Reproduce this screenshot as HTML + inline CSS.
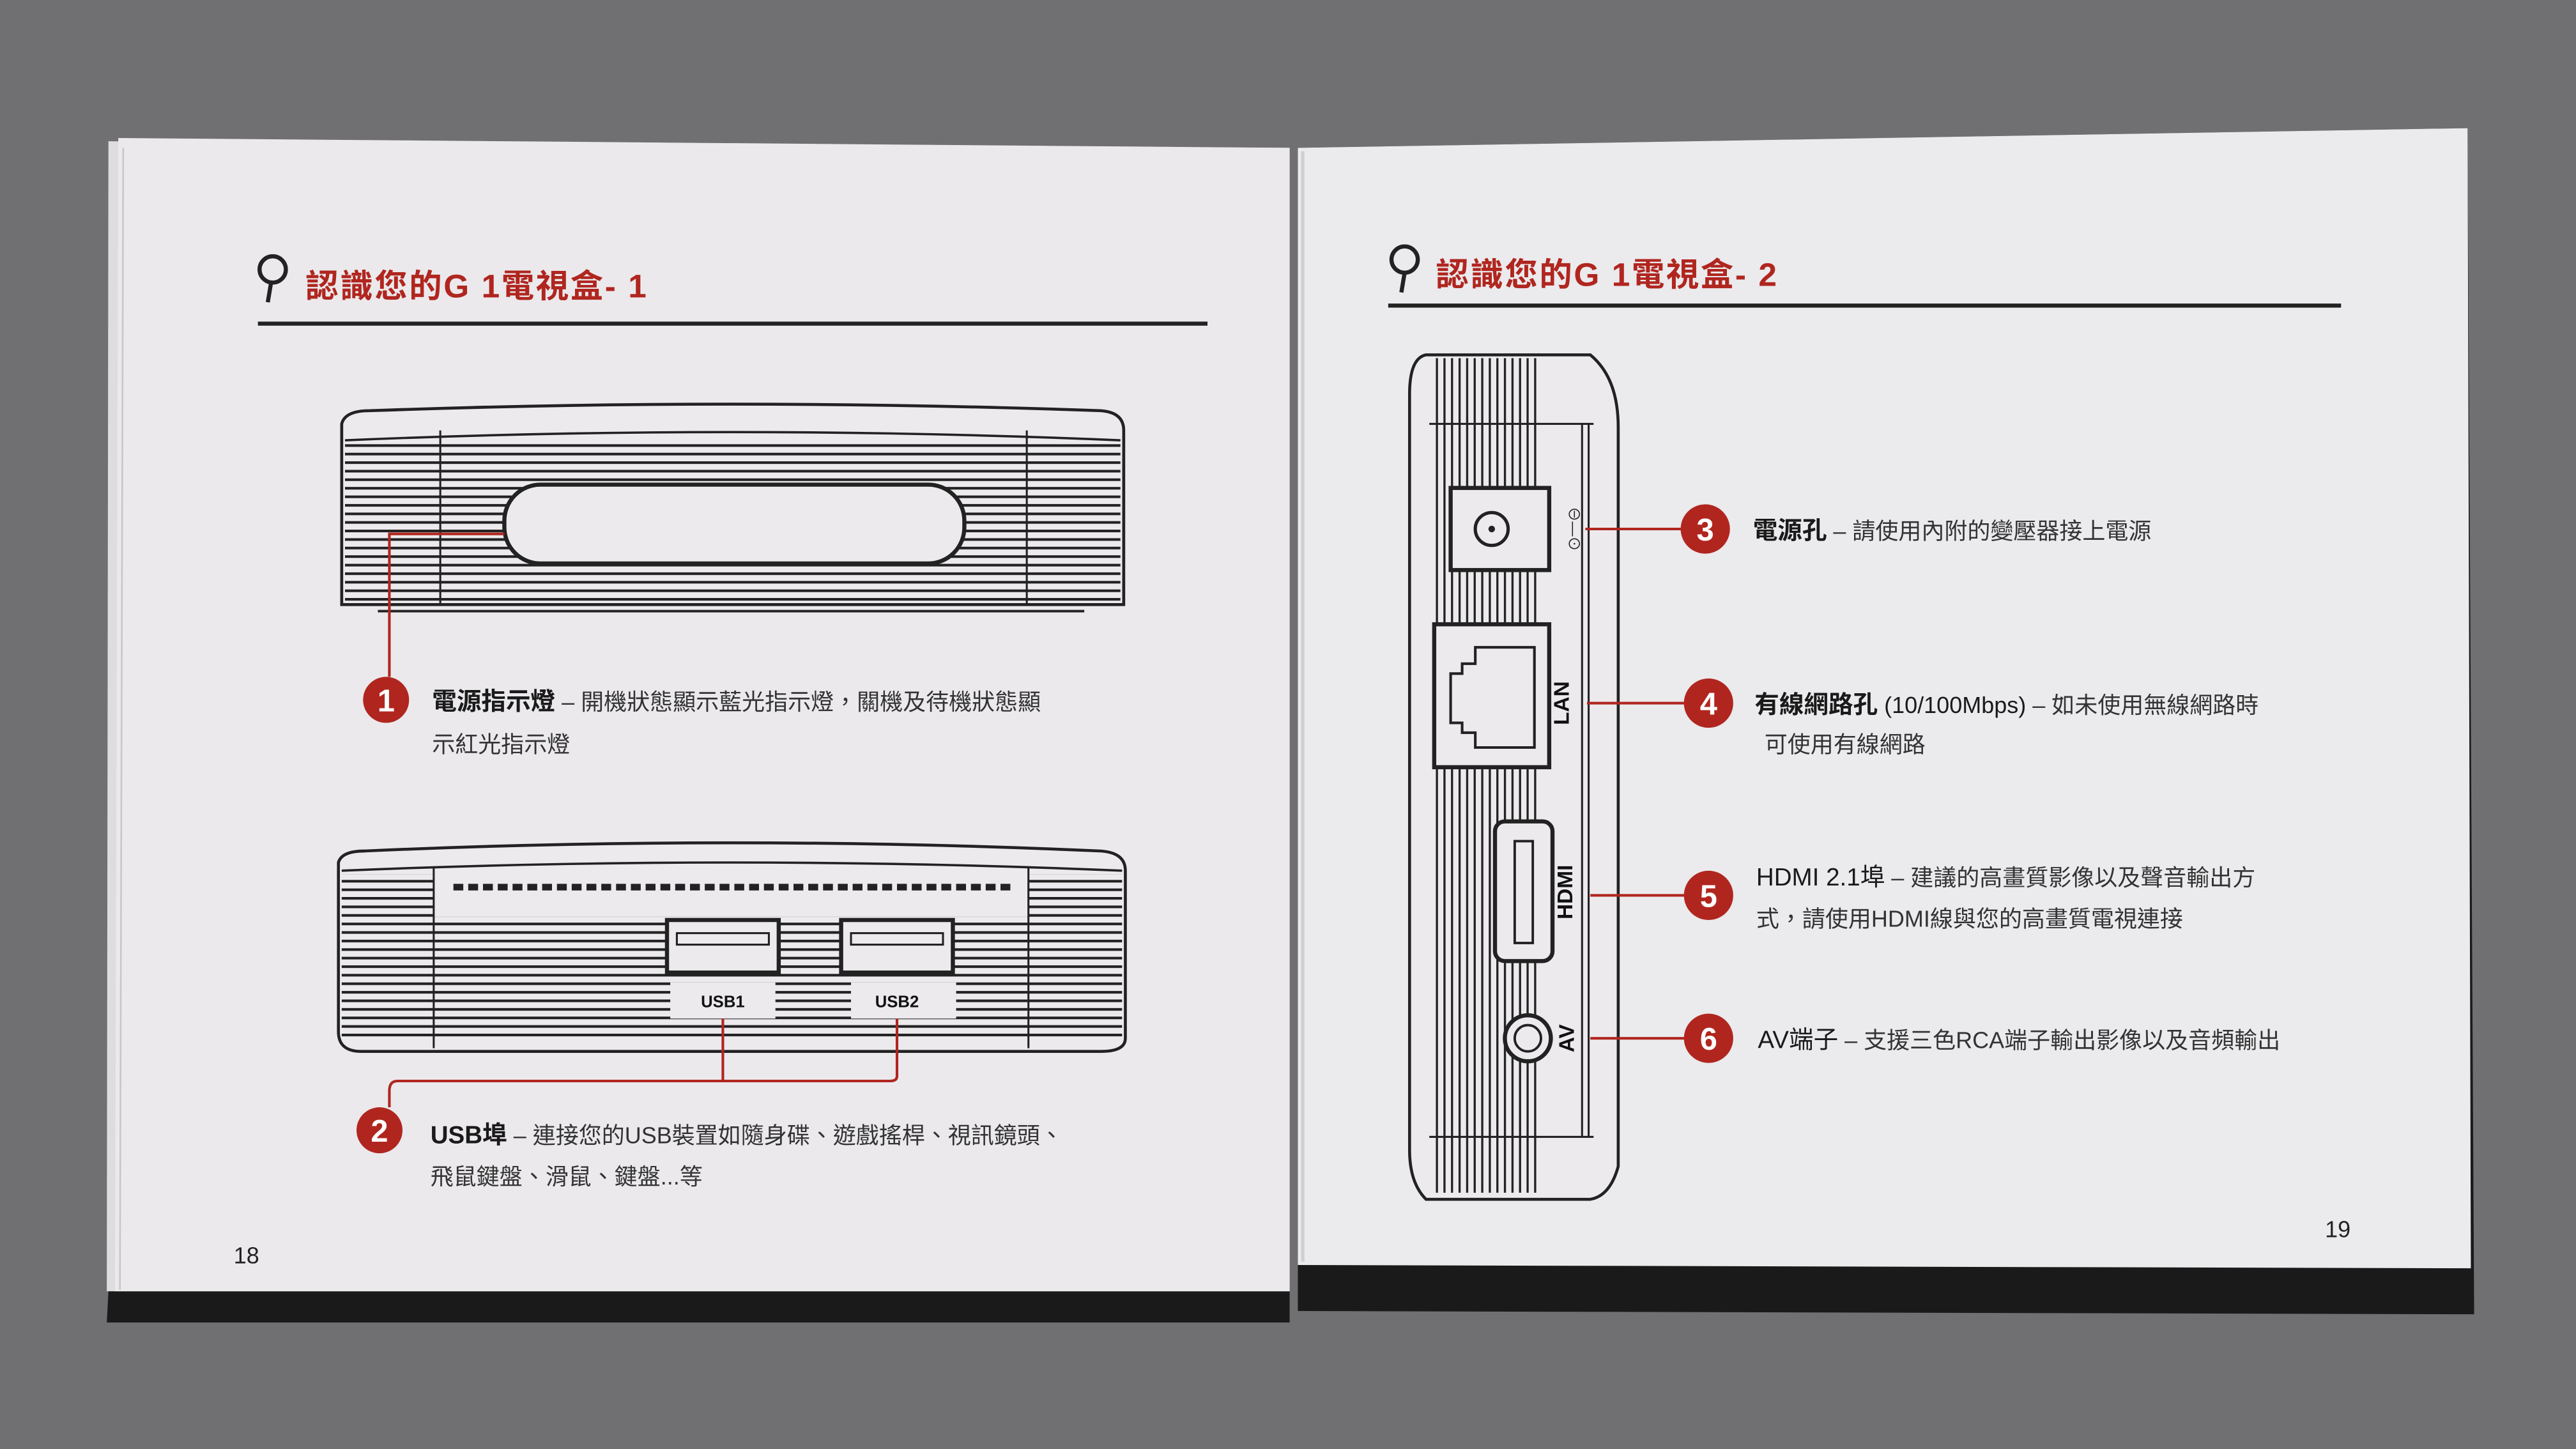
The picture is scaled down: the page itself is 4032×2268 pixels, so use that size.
<!DOCTYPE html>
<html><head><meta charset="utf-8"><style>
html,body{margin:0;padding:0;background:#6b6b6d;}
svg{display:block;}
text{font-family:"Liberation Sans","Noto Sans CJK TC",sans-serif;}
</style></head><body>
<svg width="4032" height="2268" viewBox="0 0 1568 882" preserveAspectRatio="none" xmlns="http://www.w3.org/2000/svg">
<defs>
<pattern id="hs" width="10" height="5.2" patternUnits="userSpaceOnUse"><rect width="10" height="1.6" fill="#222"/></pattern>
<pattern id="vs" width="4.6" height="10" patternUnits="userSpaceOnUse"><rect width="1.3" height="10" fill="#222"/></pattern>
</defs>
<rect width="1568" height="882" fill="#707072"/>
<!-- left page -->
<polygon points="66,786 785,786 785,805 65,805" fill="#1a1a1a"/>
<polygon points="66,86 785,90 785,786 65,786" fill="#dedcdf"/>
<polygon points="72,84 785,90 785,786 70,786" fill="#ebe9ec"/>
<line x1="75" y1="90" x2="73" y2="785" stroke="#c8c6c9" stroke-width="1"/>
<!-- right page -->
<polygon points="790,90 1502,78 1506,800 790,798" fill="#1a1a1a"/>
<polygon points="790,90 1502,78 1504,772 790,770" fill="#ebeaed"/>
<line x1="793" y1="92" x2="793" y2="768" stroke="#d0ced1" stroke-width="2"/>

<!-- left title -->
<circle cx="166" cy="164" r="8" fill="none" stroke="#222" stroke-width="2.5"/>
<line x1="165" y1="172" x2="163" y2="184" stroke="#222" stroke-width="2.5"/>
<text x="186" y="181" font-size="20" font-weight="bold" fill="#b0261f" letter-spacing="1">認識您的G 1電視盒- 1</text>
<line x1="157" y1="197" x2="735" y2="197" stroke="#222" stroke-width="2.5"/>

<!-- box 1 -->
<path d="M208,258 Q210,250 225,250 Q445,242 670,250 Q684,251 684,262 L684,368 L208,368 Z" fill="#eceaed" stroke="#222" stroke-width="1.8"/>
<rect x="210" y="268" width="472" height="98" fill="url(#hs)"/>
<rect x="268" y="262" width="356" height="8" fill="#eceaed"/>
<line x1="268" y1="262" x2="268" y2="368" stroke="#222" stroke-width="1.2"/>
<line x1="625" y1="262" x2="625" y2="368" stroke="#222" stroke-width="1.2"/>
<path d="M210,268 Q445,258 682,268" fill="none" stroke="#222" stroke-width="1.4"/>
<rect x="307" y="295" width="280" height="48" rx="22" fill="#eceaed" stroke="#222" stroke-width="2.5"/>
<line x1="230" y1="372" x2="660" y2="372" stroke="#222" stroke-width="1.5"/>
<path d="M307,325 H237 V412" fill="none" stroke="#b0261f" stroke-width="1.6"/>
<circle cx="235" cy="426" r="14" fill="#b0261f"/>
<text x="235" y="433" font-size="19" font-weight="bold" fill="#fff" text-anchor="middle">1</text>
<text x="263" y="432" font-size="15" font-weight="bold" fill="#1a1a1a">電源指示燈<tspan font-weight="normal" font-size="14" fill="#333"> – 開機狀態顯示藍光指示燈，關機及待機狀態顯</tspan></text>
<text x="263" y="458" font-size="14" fill="#333">示紅光指示燈</text>

<!-- box 2 -->
<path d="M206,525 Q208,518 222,518 Q445,508 670,518 Q685,519 685,530 L685,632 Q685,640 670,640 L220,640 Q206,640 206,628 Z" fill="#eceaed" stroke="#222" stroke-width="1.8"/>
<rect x="208" y="532" width="475" height="102" fill="url(#hs)"/>
<rect x="264" y="528" width="362" height="30" fill="#eceaed"/>
<path d="M208,530 Q445,520 683,530" fill="none" stroke="#222" stroke-width="1.4"/>
<line x1="264" y1="528" x2="264" y2="638" stroke="#222" stroke-width="1.2"/>
<line x1="626" y1="528" x2="626" y2="638" stroke="#222" stroke-width="1.2"/>
<line x1="276" y1="540" x2="616" y2="540" stroke="#222" stroke-width="4" stroke-dasharray="6,3"/>
<rect x="406" y="560" width="68" height="32" fill="#eceaed" stroke="#222" stroke-width="2.5"/>
<rect x="412" y="568" width="56" height="7" fill="none" stroke="#222" stroke-width="1.2"/>
<rect x="512" y="560" width="68" height="32" fill="#eceaed" stroke="#222" stroke-width="2.5"/>
<rect x="518" y="568" width="56" height="7" fill="none" stroke="#222" stroke-width="1.2"/>
<rect x="408" y="598" width="64" height="22" fill="#eceaed"/>
<rect x="518" y="598" width="64" height="22" fill="#eceaed"/>
<text x="440" y="613" font-size="10" font-weight="bold" fill="#111" text-anchor="middle">USB1</text>
<text x="546" y="613" font-size="10" font-weight="bold" fill="#111" text-anchor="middle">USB2</text>
<path d="M440,620 V658 M546,620 V655 Q546,658 542,658 H242 Q237,658 237,664 V674" fill="none" stroke="#b0261f" stroke-width="1.6"/>
<circle cx="231" cy="688" r="14" fill="#b0261f"/>
<text x="231" y="695" font-size="19" font-weight="bold" fill="#fff" text-anchor="middle">2</text>
<text x="262" y="696" font-size="15" font-weight="bold" fill="#1a1a1a">USB埠<tspan font-weight="normal" font-size="14" fill="#333"> – 連接您的USB裝置如隨身碟、遊戲搖桿、視訊鏡頭、</tspan></text>
<text x="262" y="721" font-size="14" fill="#333">飛鼠鍵盤、滑鼠、鍵盤...等</text>
<text x="150" y="769" font-size="14" fill="#222" text-anchor="middle">18</text>

<!-- right title -->
<circle cx="855" cy="158" r="8" fill="none" stroke="#222" stroke-width="2.5"/>
<line x1="855" y1="166" x2="853" y2="178" stroke="#222" stroke-width="2.5"/>
<text x="874" y="174" font-size="20" font-weight="bold" fill="#b0261f" letter-spacing="1">認識您的G 1電視盒- 2</text>
<line x1="845" y1="186" x2="1425" y2="186" stroke="#222" stroke-width="2.5"/>

<!-- side device -->
<path d="M868,216 H968 Q985,230 985,260 V710 Q980,728 968,730 H868 Q858,720 858,700 V240 Q858,218 868,216 Z" fill="#eceaed" stroke="#222" stroke-width="1.8"/>
<rect x="872" y="218" width="65" height="508" fill="url(#vs)"/>
<line x1="870" y1="258" x2="970" y2="258" stroke="#222" stroke-width="1.2"/>
<line x1="870" y1="692" x2="970" y2="692" stroke="#222" stroke-width="1.2"/>
<line x1="963" y1="258" x2="963" y2="692" stroke="#222" stroke-width="1.2"/>
<line x1="967" y1="258" x2="967" y2="692" stroke="#222" stroke-width="1.2"/>
<rect x="883" y="297" width="60" height="50" fill="#eceaed" stroke="#222" stroke-width="2.5"/>
<circle cx="908" cy="322" r="10" fill="none" stroke="#222" stroke-width="2"/>
<circle cx="908" cy="322" r="2" fill="#222"/>
<text x="955" y="322" font-size="9" fill="#222" text-anchor="middle" transform="rotate(90 955 322)">⊖—⊙</text>
<rect x="873" y="380" width="70" height="87" fill="#eceaed" stroke="#222" stroke-width="2.5"/>
<path d="M898,394 H934 V455 H898 V446 H890 V440 H883 V410 H890 V404 H898 Z" fill="none" stroke="#222" stroke-width="1.6"/>
<text x="955" y="428" font-size="13" font-weight="bold" fill="#111" text-anchor="middle" transform="rotate(-90 955 428)">LAN</text>
<rect x="910" y="500" width="35" height="85" rx="6" fill="#eceaed" stroke="#222" stroke-width="2.5"/>
<rect x="922" y="512" width="11" height="62" fill="none" stroke="#222" stroke-width="1.5"/>
<text x="957" y="543" font-size="13" font-weight="bold" fill="#111" text-anchor="middle" transform="rotate(-90 957 543)">HDMI</text>
<circle cx="930" cy="632" r="14" fill="#eceaed" stroke="#222" stroke-width="2.5"/>
<circle cx="930" cy="632" r="8" fill="none" stroke="#222" stroke-width="1.5"/>
<text x="958" y="632" font-size="13" font-weight="bold" fill="#111" text-anchor="middle" transform="rotate(-90 958 632)">AV</text>
<g stroke="#b0261f" stroke-width="1.6">
<line x1="965" y1="322" x2="1024" y2="322"/>
<line x1="966" y1="428" x2="1026" y2="428"/>
<line x1="968" y1="545" x2="1026" y2="545"/>
<line x1="968" y1="632" x2="1026" y2="632"/>
</g>
<g fill="#b0261f">
<circle cx="1038" cy="322" r="15"/><circle cx="1040" cy="428" r="15"/>
<circle cx="1040" cy="545" r="15"/><circle cx="1040" cy="632" r="15"/>
</g>
<g font-size="19" font-weight="bold" fill="#fff" text-anchor="middle">
<text x="1038" y="329">3</text><text x="1040" y="435">4</text>
<text x="1040" y="552">5</text><text x="1040" y="639">6</text>
</g>
<text x="1067" y="328" font-size="15" font-weight="bold" fill="#1a1a1a">電源孔<tspan font-weight="normal" font-size="14" fill="#333"> – 請使用內附的變壓器接上電源</tspan></text>
<text x="1068" y="434" font-size="15" font-weight="bold" fill="#1a1a1a">有線網路孔<tspan font-weight="normal" font-size="14"> (10/100Mbps)</tspan><tspan font-weight="normal" font-size="14" fill="#333"> – 如未使用無線網路時</tspan></text>
<text x="1074" y="458" font-size="14" fill="#333">可使用有線網路</text>
<text x="1069" y="539" font-size="15" fill="#1a1a1a">HDMI 2.1埠<tspan font-size="14" fill="#333"> – 建議的高畫質影像以及聲音輸出方</tspan></text>
<text x="1069" y="564" font-size="14" fill="#333">式，請使用HDMI線與您的高畫質電視連接</text>
<text x="1070" y="638" font-size="15" fill="#1a1a1a">AV端子<tspan font-size="14" fill="#333"> – 支援三色RCA端子輸出影像以及音頻輸出</tspan></text>
<text x="1423" y="753" font-size="14" fill="#222" text-anchor="middle">19</text>
</svg>
</body></html>
